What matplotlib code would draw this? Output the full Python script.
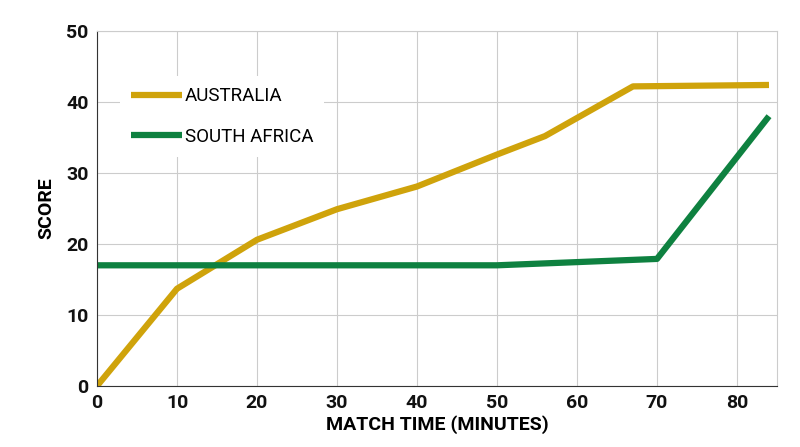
import matplotlib
matplotlib.use("Agg")
import matplotlib.pyplot as plt

aus_t = [0, 10, 20, 30, 40, 50, 56, 67, 84]
aus_s = [0, 13.7, 20.6, 24.9, 28.1, 32.6, 35.2, 42.2, 42.4]
sa_t = [0, 50, 70, 84]
sa_s = [17, 17, 17.9, 38]
xticks = [0, 10, 20, 30, 40, 50, 60, 70, 80]
yticks = [0, 10, 20, 30, 40, 50]

plt.rcParams['font.family'] = ['Roboto', 'DejaVu Sans']
fig = plt.figure(figsize=(8, 4.47), dpi=100)
ax = fig.add_axes([97/800, 1-386/447, 680/800, 355/447])
ax.plot(aus_t, aus_s, color='#CFA30B', lw=4.5, label='AUSTRALIA', solid_capstyle='butt')
ax.plot(sa_t, sa_s, color='#0E8140', lw=4.5, label='SOUTH AFRICA', solid_capstyle='butt')
ax.set_xlim(0, 85)
ax.set_ylim(0, 50)
ax.set_xticks(xticks)
ax.set_yticks(yticks)
ax.grid(True, color='#cccccc', lw=0.8)
ax.set_axisbelow(True)
for s in ['top', 'right']:
    ax.spines[s].set_color('#cccccc')
for s in ['left', 'bottom']:
    ax.spines[s].set_color('#333333')
ax.tick_params(labelsize=14, length=0, pad=6, colors='#111111')
for lab in ax.get_xticklabels() + ax.get_yticklabels():
    lab.set_fontweight('semibold')
ax.set_xlabel('MATCH TIME (MINUTES)', fontsize=14, fontweight='bold', labelpad=2)
ax.set_ylabel('SCORE', fontsize=14, fontweight='bold', labelpad=8)
leg = ax.legend(loc='upper left', bbox_to_anchor=(0.02, 0.9), frameon=True, facecolor='white',
                edgecolor='none', framealpha=1, fontsize=13.5, handlelength=2.7, labelspacing=1.2,
                handletextpad=0.15, borderpad=0.6)
fig.savefig('out.png', dpi=100)
